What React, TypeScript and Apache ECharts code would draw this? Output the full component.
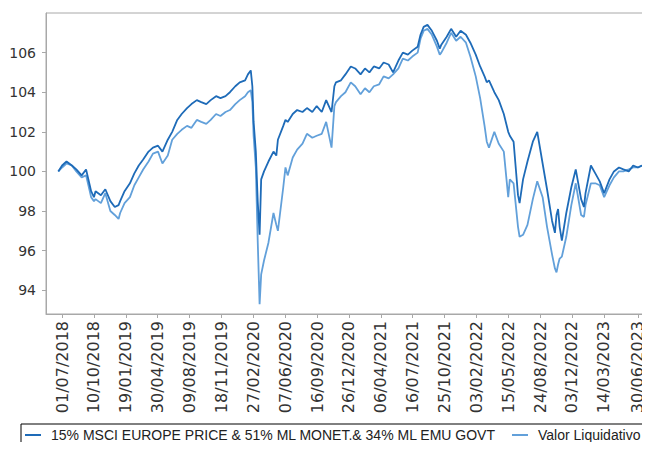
import React, { useEffect, useRef } from "react";
import * as echarts from "echarts";

const seriesNames = [
  "15% MSCI EUROPE PRICE & 51% ML MONET.& 34% ML EMU GOVT",
  "Valor Liquidativo",
];

const tickLabels = [
  "01/07/2018", "10/10/2018", "19/01/2019", "30/04/2019", "09/08/2019",
  "18/11/2019", "27/02/2020", "07/06/2020", "16/09/2020", "26/12/2020",
  "06/04/2021", "16/07/2021", "25/10/2021", "03/02/2022", "15/05/2022",
  "24/08/2022", "03/12/2022", "14/03/2023", "30/06/2023",
];

const yTicks = [94, 96, 98, 100, 102, 104, 106];

const dates = [
  "19/06/2018", "01/07/2018", "15/07/2018", "01/08/2018", "15/08/2018", "01/09/2018", "15/09/2018",
  "01/10/2018", "10/10/2018", "15/10/2018", "01/11/2018", "15/11/2018", "01/12/2018", "15/12/2018", "27/12/2018",
  "01/01/2019", "15/01/2019", "01/02/2019", "15/02/2019", "01/03/2019", "15/03/2019", "01/04/2019", "15/04/2019",
  "01/05/2019", "15/05/2019", "01/06/2019", "15/06/2019", "01/07/2019", "15/07/2019", "01/08/2019", "15/08/2019",
  "01/09/2019", "15/09/2019", "01/10/2019", "15/10/2019", "01/11/2019", "15/11/2019", "01/12/2019", "15/12/2019",
  "01/01/2020", "15/01/2020", "01/02/2020", "10/02/2020", "19/02/2020", "24/02/2020", "28/02/2020", "06/03/2020",
  "12/03/2020", "18/03/2020", "23/03/2020", "01/04/2020", "15/04/2020", "01/05/2020", "10/05/2020", "15/05/2020",
  "01/06/2020", "08/06/2020", "15/06/2020", "01/07/2020", "15/07/2020", "01/08/2020", "15/08/2020", "01/09/2020",
  "15/09/2020", "01/10/2020", "15/10/2020", "01/11/2020", "10/11/2020", "15/11/2020", "01/12/2020", "15/12/2020",
  "01/01/2021", "15/01/2021", "01/02/2021", "15/02/2021", "01/03/2021", "15/03/2021", "01/04/2021", "15/04/2021",
  "01/05/2021", "15/05/2021", "01/06/2021", "15/06/2021", "01/07/2021", "15/07/2021", "01/08/2021", "10/08/2021",
  "20/08/2021", "01/09/2021", "15/09/2021", "01/10/2021", "10/10/2021", "15/10/2021", "01/11/2021", "15/11/2021",
  "01/12/2021", "15/12/2021",
  "01/01/2022", "15/01/2022", "01/02/2022", "15/02/2022", "01/03/2022", "08/03/2022", "15/03/2022", "01/04/2022",
  "15/04/2022", "01/05/2022", "15/05/2022", "20/05/2022", "01/06/2022", "15/06/2022", "20/06/2022", "01/07/2022",
  "15/07/2022", "01/08/2022", "15/08/2022", "01/09/2022", "15/09/2022", "01/10/2022", "10/10/2022", "15/10/2022",
  "20/10/2022", "25/10/2022", "01/11/2022", "15/11/2022", "01/12/2022", "15/12/2022",
  "01/01/2023", "10/01/2023", "15/01/2023", "01/02/2023", "15/02/2023", "01/03/2023", "15/03/2023", "01/04/2023",
  "15/04/2023", "01/05/2023", "15/05/2023", "01/06/2023", "15/06/2023", "30/06/2023", "13/07/2023",
];

const benchmark = [
  100.0, 100.3, 100.5, 100.3, 100.1, 99.8, 100.1,
  99.0, 98.7, 99.0, 98.8, 99.1, 98.5, 98.2, 98.3,
  98.5, 99.0, 99.4, 99.9, 100.3, 100.6, 101.0, 101.2,
  101.3, 101.0, 101.6, 102.0, 102.6, 102.9, 103.2, 103.4,
  103.6, 103.5, 103.4, 103.6, 103.8, 103.7, 103.8, 104.0,
  104.3, 104.5, 104.6, 104.9, 105.1, 104.3, 102.5, 101.0,
  98.5, 96.8, 99.6, 100.0, 100.5, 101.0, 100.8, 101.6,
  102.3, 102.6, 102.5, 102.9, 103.1, 103.0, 103.2, 103.0,
  103.3, 103.0, 103.6, 103.0, 104.3, 104.5, 104.6, 104.9,
  105.3, 105.2, 104.9, 105.2, 105.0, 105.3, 105.2, 105.5,
  105.4, 105.0, 105.6, 106.0, 105.9, 106.1, 106.3, 106.9,
  107.3, 107.4, 107.1, 106.6, 106.2, 106.4, 106.8, 107.2,
  106.8, 107.1,
  106.9, 106.5, 105.9, 105.3, 104.8, 104.5, 104.6, 104.0,
  103.6, 102.9, 102.0, 101.8, 101.5, 98.8, 98.4, 99.6,
  100.5, 101.5, 102.0, 100.4, 99.1, 97.5, 96.9, 97.8,
  98.1, 97.2, 96.5, 97.9, 99.2, 100.1,
  98.6, 98.2, 98.9, 100.3, 99.9, 99.5, 98.9, 99.6,
  100.0, 100.2, 100.1, 100.0, 100.3, 100.2, 100.3,
];

const valorLiquidativo = [
  100.0, 100.2, 100.4, 100.3, 100.0, 99.7, 99.8,
  98.7, 98.5, 98.6, 98.4, 98.9, 98.0, 97.8, 97.6,
  97.9, 98.4, 98.7, 99.3, 99.7, 100.1, 100.5, 100.9,
  101.0, 100.4, 100.8, 101.6, 101.9, 102.1, 102.3, 102.2,
  102.6, 102.5, 102.4, 102.6, 102.9, 102.8, 103.0, 103.1,
  103.4, 103.6, 103.8, 104.0, 104.1, 103.5, 101.8, 100.2,
  96.5, 93.3, 94.8, 95.5, 96.4, 97.9, 97.3, 97.0,
  99.2, 100.2, 99.8, 100.7, 101.1, 101.4, 101.9, 101.7,
  101.8, 101.9, 102.5, 101.2, 103.3, 103.5, 103.8, 104.0,
  104.5, 104.3, 103.9, 104.2, 104.0, 104.3, 104.4, 104.8,
  104.7, 104.9, 105.2, 105.7, 105.6, 105.8, 106.0, 106.7,
  107.1, 107.2, 106.9, 106.3, 105.9, 106.0, 106.5, 107.0,
  106.6, 106.8,
  106.5, 105.8, 104.8, 103.7, 102.3, 101.5, 101.2, 102.0,
  101.4, 101.0, 98.7, 99.6, 99.4, 97.2, 96.7, 96.8,
  97.3, 98.6, 99.5, 98.7, 97.2, 95.8, 95.1, 94.9,
  95.3, 95.6, 95.7, 96.7, 98.3, 99.4,
  97.8, 97.7, 98.3, 99.4, 99.4, 99.3, 98.7, 99.3,
  99.7, 100.0, 100.0, 100.1, 100.2, 100.2, 100.3,
];

const ORIGIN = Date.UTC(2018, 6, 1);
function dayIndex(s: string): number {
  const [d, m, y] = s.split("/").map(Number);
  return Math.round((Date.UTC(y, m - 1, d) - ORIGIN) / 86400000);
}

export default function App() {
  const ref = useRef<HTMLDivElement>(null);
  useEffect(() => {
    if (!ref.current) return;
    const chart = echarts.init(ref.current, undefined, { renderer: "svg" });
    const tickDays = tickLabels.map(dayIndex);
    const labelMap: Record<number, string> = {};
    tickLabels.forEach((t, i) => (labelMap[tickDays[i]] = t));
    const xs = dates.map(dayIndex);
    const axisColor = "#a8a8a8";
    chart.setOption({
      animation: false,
      backgroundColor: "#ffffff",
      graphic: [
        {
          type: "text",
          left: 316,
          top: -11,
          style: { text: "p", fill: "#f0821e", font: "14px 'DejaVu Sans'" },
        },
      ],
      grid: {
        left: 46,
        right: 2,
        top: 13,
        bottom: 136,
        show: true,
        borderColor: axisColor,
        borderWidth: 1,
        containLabel: false,
      },
      legend: {
        data: seriesNames,
        left: 21,
        top: 424,
        orient: "horizontal",
        padding: [4, 3, 4, 4],
        itemGap: 16,
        itemWidth: 16,
        itemHeight: 2,
        icon: "rect",
        borderColor: "#000",
        borderWidth: 1,
        textStyle: {
          fontFamily: "'Liberation Sans', Arial, sans-serif",
          fontSize: 14,
          color: "#222",
          padding: [0, 0, 0, 5],
        },
      },
      xAxis: {
        type: "value",
        min: -51,
        max: 1857,
        splitLine: { show: false },
        axisLine: { show: true, onZero: false, lineStyle: { color: axisColor } },
        axisTick: {
          show: true,
          length: 4,
          customValues: tickDays,
          lineStyle: { color: axisColor },
        },
        axisLabel: {
          customValues: tickDays,
          rotate: 90,
          margin: 7,
          fontFamily: "'DejaVu Sans', sans-serif",
          fontSize: 16,
          color: "#333",
          formatter: (v: number) => labelMap[Math.round(v)] ?? "",
        },
      },
      yAxis: {
        type: "value",
        min: 92.8,
        max: 108,
        splitLine: { show: false },
        axisLine: { show: true, onZero: false, lineStyle: { color: axisColor } },
        axisTick: {
          show: true,
          length: 4,
          customValues: yTicks,
          lineStyle: { color: axisColor },
        },
        axisLabel: {
          customValues: yTicks,
          margin: 10,
          fontFamily: "'DejaVu Sans', sans-serif",
          fontSize: 14,
          color: "#333",
        },
      },
      series: [
        {
          name: seriesNames[0],
          type: "line",
          showSymbol: false,
          z: 3,
          lineStyle: { width: 1.8, color: "#1e6bb8" },
          itemStyle: { color: "#1e6bb8" },
          data: xs.map((x, i) => [x, benchmark[i]]),
        },
        {
          name: seriesNames[1],
          type: "line",
          showSymbol: false,
          z: 2,
          lineStyle: { width: 1.8, color: "#62a0da" },
          itemStyle: { color: "#62a0da" },
          data: xs.map((x, i) => [x, valorLiquidativo[i]]),
        },
      ],
    });
    return () => chart.dispose();
  }, []);
  return <div ref={ref} style={{ width: 650, height: 450, margin: -8 }} />;
}
